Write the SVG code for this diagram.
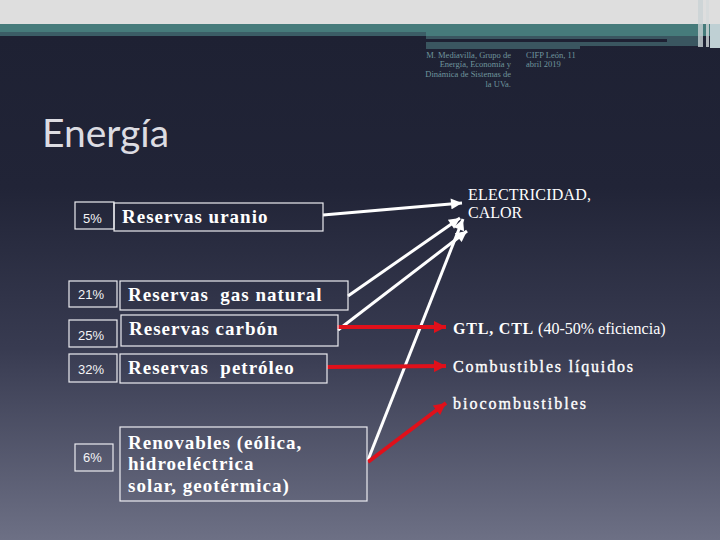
<svg xmlns="http://www.w3.org/2000/svg" width="720" height="540" viewBox="0 0 720 540">
<defs>
<linearGradient id="bg" x1="0" y1="36" x2="0" y2="540" gradientUnits="userSpaceOnUse">
<stop offset="0" stop-color="#1e2133"/>
<stop offset="0.3" stop-color="#212437"/>
<stop offset="0.62" stop-color="#383b51"/>
<stop offset="1" stop-color="#6d7085"/>
</linearGradient>
<marker id="aw" viewBox="0 0 10 10" refX="10" refY="5" markerWidth="13" markerHeight="11" markerUnits="userSpaceOnUse" orient="auto">
<path d="M0,0 L10,5 L0,10 z" fill="#ffffff"/>
</marker>
<marker id="ar" viewBox="0 0 10 10" refX="10" refY="5" markerWidth="14" markerHeight="12" markerUnits="userSpaceOnUse" orient="auto">
<path d="M0,0 L10,5 L0,10 z" fill="#e0101a"/>
</marker>
</defs>
<style>
.box{fill:none;stroke:#ececf0;stroke-width:1.2}
.pct{font-family:"Liberation Sans",Arial,sans-serif;font-size:13px;fill:#f4f4f6}
.res{font-family:"Liberation Serif","Times New Roman",serif;font-size:19px;font-weight:bold;fill:#ffffff;letter-spacing:1px;white-space:pre}
.out{font-family:"Liberation Serif","Times New Roman",serif;font-size:16px;fill:#ffffff}
.hdr{font-family:"Liberation Serif","Times New Roman",serif;font-size:8.5px;fill:#6f959d}
.wl{stroke:#ffffff;stroke-width:3;fill:none;marker-end:url(#aw)}
.rl{stroke:#e0101a;stroke-width:4;fill:none;marker-end:url(#ar)}
</style>
<!-- background -->
<rect x="0" y="0" width="720" height="540" fill="url(#bg)"/>
<rect x="0" y="0" width="720" height="24" fill="#dedede"/>
<rect x="0" y="24" width="720" height="12" fill="#467b7b"/>
<rect x="0" y="32" width="426" height="4" fill="#3b5d66"/>
<rect x="426" y="36" width="274" height="10" fill="#3a5660"/>
<rect x="426" y="46" width="154" height="3" fill="#3a5660"/>
<rect x="426" y="39" width="241" height="3" fill="#1e2133"/>
<rect x="698" y="0" width="5" height="47" fill="#c9d2d4" opacity="0.8"/>
<rect x="706" y="0" width="3" height="47" fill="#d4dadb" opacity="0.8"/>
<rect x="710" y="24" width="10" height="24" fill="#bfd0d4"/>
<!-- header -->
<g id="header">
<text class="hdr" text-anchor="end" x="511" y="58">M. Mediavilla, Grupo de</text>
<text class="hdr" text-anchor="end" x="511" y="67">Energía, Economía y</text>
<text class="hdr" text-anchor="end" x="511" y="77">Dinámica de Sistemas de</text>
<text class="hdr" text-anchor="end" x="511" y="87">la UVa.</text>
<text class="hdr" x="526" y="58">CIFP León, 11</text>
<text class="hdr" x="526" y="67">abril 2019</text>
</g>
<text id="title" x="42" y="147" font-family="Lato,'Open Sans',sans-serif" font-size="39" fill="#dcdce2">Energía</text>
<!-- connectors -->
<g id="connectors">
<line class="wl" x1="323" y1="215" x2="462" y2="203"/>
<line class="wl" x1="348" y1="296" x2="460" y2="218"/>
<line class="wl" x1="338" y1="330" x2="467" y2="231"/>
<line class="wl" x1="368" y1="460" x2="463" y2="219"/>
<line class="rl" x1="337" y1="327" x2="446" y2="327"/>
<line class="rl" x1="327" y1="367" x2="446" y2="366"/>
<line class="rl" x1="368" y1="462" x2="446" y2="403"/>
</g>
<!-- nodes -->
<g id="uranio">
<rect class="box" x="75" y="202" width="39" height="27"/>
<text class="pct" x="83" y="223">5%</text>
<rect class="box" x="114" y="203" width="209" height="28"/>
<text class="res" x="122" y="223">Reservas uranio</text>
</g>
<g id="gas">
<rect class="box" x="69" y="281" width="48" height="26"/>
<text class="pct" x="78" y="299">21%</text>
<rect class="box" x="120" y="281" width="228" height="29"/>
<text class="res" x="128" y="301">Reservas  gas natural</text>
</g>
<g id="carbon">
<rect class="box" x="69" y="320" width="48" height="27"/>
<text class="pct" x="78" y="340">25%</text>
<rect class="box" x="121" y="315" width="217" height="31"/>
<text class="res" x="129" y="335">Reservas carbón</text>
</g>
<g id="petroleo">
<rect class="box" x="69" y="354" width="48" height="28"/>
<text class="pct" x="78" y="374">32%</text>
<rect class="box" x="120" y="354" width="207" height="29"/>
<text class="res" x="128" y="374">Reservas  petróleo</text>
</g>
<g id="renovables">
<rect class="box" x="75" y="444" width="38" height="27"/>
<text class="pct" x="83" y="462">6%</text>
<rect class="box" x="120" y="427" width="247" height="74"/>
<text class="res" x="128" y="449">Renovables (eólica,</text>
<text class="res" x="128" y="470">hidroeléctrica</text>
<text class="res" x="128" y="492">solar, geotérmica)</text>
</g>
<g id="electricidad">
<text class="out" x="468" y="200" textLength="123" lengthAdjust="spacing">ELECTRICIDAD,</text>
<text class="out" x="468" y="218">CALOR</text>
</g>
<g id="gtl">
<text class="out" x="453" y="334"><tspan font-weight="bold" letter-spacing="0.8">GTL, CTL</tspan> (40-50% eficiencia)</text>
</g>
<g id="combustibles">
<text class="out" x="453" y="372" textLength="180" lengthAdjust="spacing" stroke="#ffffff" stroke-width="0.35">Combustibles líquidos</text>
</g>
<g id="bio">
<text class="out" x="453" y="409" textLength="133" lengthAdjust="spacing" stroke="#ffffff" stroke-width="0.35">biocombustibles</text>
</g>
</svg>
